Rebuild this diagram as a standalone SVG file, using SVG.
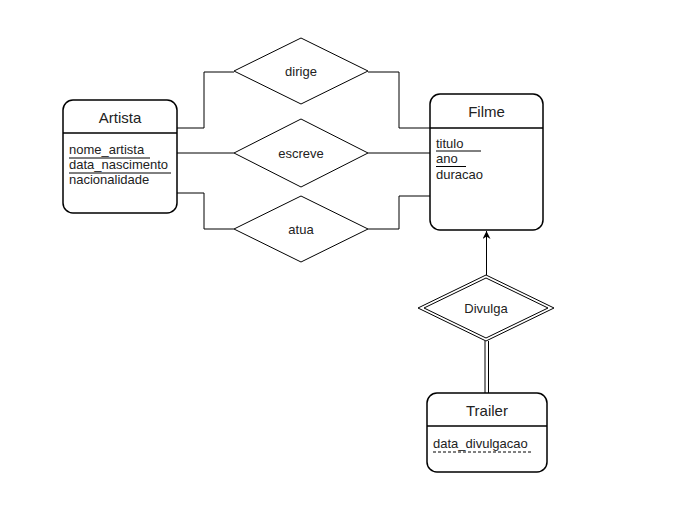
<svg xmlns="http://www.w3.org/2000/svg" width="680" height="507" viewBox="0 0 680 507">
<defs>
<style>
.ent{fill:#fff;stroke:#000;stroke-width:1.5}
.sep{stroke:#000;stroke-width:1.5}
.rel{fill:#fff;stroke:#000;stroke-width:1}
.con{fill:none;stroke:#000;stroke-width:1}
.ul{stroke:#000;stroke-width:1}
.title{font-family:"Liberation Sans",Arial,sans-serif;font-size:15px;fill:#222;text-anchor:middle}
.attr{font-family:"Liberation Sans",Arial,sans-serif;font-size:13px;fill:#222}
.rlab{font-family:"Liberation Sans",Arial,sans-serif;font-size:13px;fill:#222;text-anchor:middle}
</style>
<marker id="arr" viewBox="0 0 10 10" refX="10" refY="5" markerWidth="8" markerHeight="8" markerUnits="userSpaceOnUse" orient="auto">
<path d="M0,0 L10,5 L0,10 L3,5 Z" fill="#000"/>
</marker>
</defs>
<rect width="680" height="507" fill="#fff"/>
<g id="connectors">
<polyline class="con" points="177,128 204,128 204,72 234,72"/>
<line class="con" x1="177" y1="153" x2="234" y2="153"/>
<polyline class="con" points="177,193 204,193 204,229 234,229"/>
<polyline class="con" points="368,72 399,72 399,128 430,128"/>
<line class="con" x1="368" y1="153" x2="430" y2="153"/>
<polyline class="con" points="368,229 399,229 399,196 430,196"/>
<line class="con" x1="486.5" y1="275" x2="486.5" y2="231" marker-end="url(#arr)"/>
<line class="con" x1="485" y1="341" x2="485" y2="393"/>
<line class="con" x1="488.5" y1="341" x2="488.5" y2="393"/>
</g>
<g id="artista">
<rect class="ent" x="63" y="100" width="114" height="113" rx="10"/>
<line class="sep" x1="63" y1="133" x2="177" y2="133"/>
<text class="title" x="120" y="123">Artista</text>
<text class="attr" x="69" y="153.5">nome_artista</text>
<line class="ul" x1="69" y1="158" x2="150" y2="158"/>
<text class="attr" x="69" y="168.5">data_nascimento</text>
<line class="ul" x1="69" y1="173" x2="171" y2="173"/>
<text class="attr" x="69" y="183.5">nacionalidade</text>
</g>
<g id="filme">
<rect class="ent" x="430" y="94" width="113" height="136" rx="10"/>
<line class="sep" x1="430" y1="128" x2="543" y2="128"/>
<text class="title" x="486.5" y="117">Filme</text>
<text class="attr" x="436" y="147.5">titulo</text>
<line class="ul" x1="436" y1="151" x2="481" y2="151"/>
<text class="attr" x="436" y="163">ano</text>
<line class="ul" x1="436" y1="166.5" x2="466" y2="166.5"/>
<text class="attr" x="436" y="178.5">duracao</text>
</g>
<g id="dirige">
<polygon class="rel" points="234,71 301,38 368,71 301,104"/>
<text class="rlab" x="301" y="75.5">dirige</text>
</g>
<g id="escreve">
<polygon class="rel" points="234,153 301,119 368,153 301,187"/>
<text class="rlab" x="301" y="157.5">escreve</text>
</g>
<g id="atua">
<polygon class="rel" points="234,229 301,196 368,229 301,262"/>
<text class="rlab" x="301" y="233.5">atua</text>
</g>
<g id="divulga">
<polygon class="rel" points="418,308 486,275 554,308 486,341"/>
<polygon class="rel" points="424,308 486,278 548,308 486,338"/>
<text class="rlab" x="486" y="312.5">Divulga</text>
</g>
<g id="trailer">
<rect class="ent" x="427" y="393" width="120" height="79" rx="10"/>
<line class="sep" x1="427" y1="426" x2="547" y2="426"/>
<text class="title" x="487" y="416">Trailer</text>
<text class="attr" x="433" y="447.5">data_divulgacao</text>
<line class="ul" x1="433" y1="452" x2="532" y2="452" stroke-dasharray="3,2"/>
</g>
</svg>
